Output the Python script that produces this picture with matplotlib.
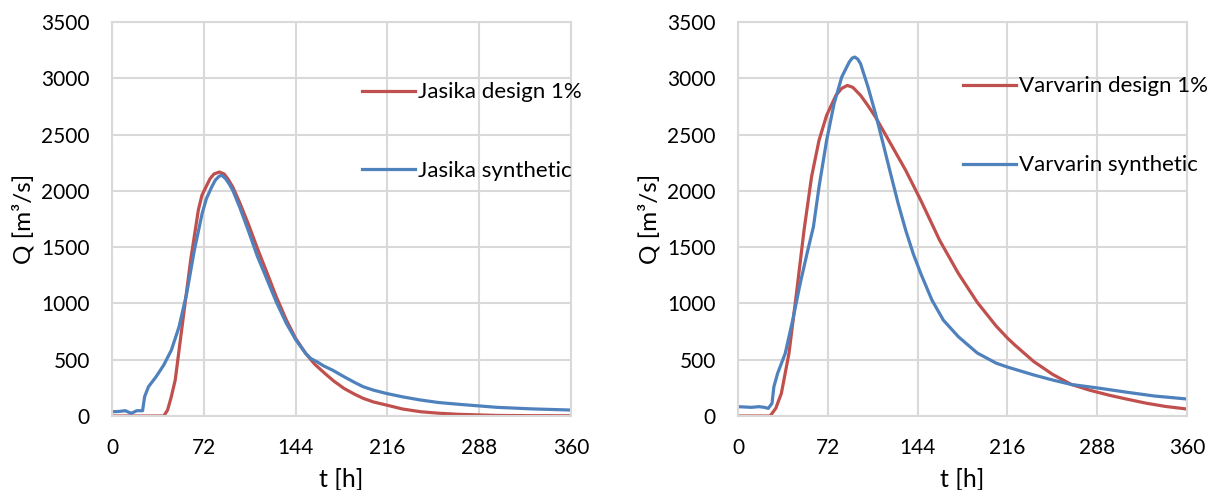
import numpy as np
import matplotlib.pyplot as plt

plt.rcParams['font.family'] = ['Lato', 'DejaVu Sans']

# Jasika
t_jd = [0, 20, 40.6, 43.6, 46.5, 49.6, 55.6, 61.7, 67.7, 70.5, 73.7, 77, 80, 84.2, 88, 91,
        94.7, 100, 106.8, 114, 121.8, 129, 136.8, 144, 151.9, 159, 166.9, 174, 182, 190, 197,
        205, 215, 228, 242, 256, 272, 302, 330, 360]
q_jd = [0, 0, 0, 53, 170, 320, 850, 1385, 1828, 1960, 2035, 2110, 2150, 2168, 2150, 2105,
        2035, 1900, 1710, 1490, 1266, 1055, 852, 690, 556, 460, 379, 310, 245, 195, 157,
        125, 98, 62, 38, 25, 15, 5, 3, 2]
t_js = [0, 5, 10.5, 15, 19.5, 24, 25.6, 28.6, 34.6, 40.6, 46.6, 52.6, 58.6, 64.6, 70.7, 74,
        78.2, 81, 84, 86, 89, 92, 94.7, 100, 106.8, 114, 121.8, 129, 136.8, 144, 151.9,
        156, 160.8, 166, 172.9, 182, 190, 197, 205, 215, 228, 242, 256, 272, 302, 330, 360]
q_js = [38, 40, 47, 24, 47, 47, 172, 260, 349, 453, 586, 793, 1089, 1473, 1799, 1930,
        2035, 2095, 2130, 2139, 2110, 2060, 2006, 1860, 1651, 1420, 1207, 1010, 822, 680, 556,
        510, 482, 445, 408, 349, 300, 260, 230, 201, 170, 142, 120, 104, 77, 63, 53]

# Varvarin
t_vd = [0, 20, 25.7, 30.2, 34.7, 40.8, 46.8, 52.9, 58.9, 64.9, 71, 78.5, 83, 87.6, 92, 98.2,
        104, 110.2, 122.3, 134.4, 146.5, 161.6, 176.7, 191.8, 206.9, 216, 222, 237, 252.2,
        267.3, 282.4, 297.5, 312.6, 327.7, 342.8, 360]
q_vd = [0, 0, 0, 68, 201, 556, 1089, 1651, 2124, 2449, 2671, 2849, 2910, 2937, 2920, 2849,
        2760, 2656, 2420, 2183, 1917, 1562, 1266, 1010, 800, 693, 630, 485, 370,
        280, 228, 185, 148, 113, 85, 62]
t_vs = [0, 10.6, 16.6, 21.1, 24.2, 27.2, 28.7, 31.7, 37.8, 43.8, 49.8, 55.9, 60.4, 64.9, 71,
        77, 83.1, 89.1, 91.5, 93.6, 96, 98.2, 104.2, 110.2, 116.3, 122.3, 128.4, 134.4, 140.4,
        146.5, 155.5, 164.6, 176.7, 191.8, 206.9, 216, 222, 237, 252.2, 267.3, 288.4, 312.6,
        333.7, 360]
q_vs = [83, 77, 83, 77, 68, 112, 260, 379, 556, 852, 1177, 1473, 1680, 2035, 2449,
        2775, 3011, 3144, 3180, 3189, 3170, 3130, 2923, 2686, 2420, 2153, 1887, 1651, 1444,
        1266, 1029, 852, 704, 560, 470, 435, 415, 365, 320, 280, 249, 210,
        178, 151]

red = '#c0504d'
blue = '#4f81bd'
grid = '#d9d9d9'

fig = plt.figure(figsize=(12.08, 4.9), dpi=100)
ax1 = fig.add_axes([0.0927, 0.151, 0.38, 0.804])
ax2 = fig.add_axes([0.611, 0.151, 0.3716, 0.804])


def style(ax, name, td, qd, ts, qs, leg_x, leg_y):
    ax.plot(td, qd, color=red, lw=2.3, label=name + ' design 1%')
    ax.plot(ts, qs, color=blue, lw=2.3, label=name + ' synthetic')
    ax.set_xlim(0, 360)
    ax.set_ylim(0, 3500)
    ax.set_xticks(np.arange(0, 361, 72))
    ax.set_yticks(np.arange(0, 3501, 500))
    ax.grid(True, color=grid, lw=1.5)
    ax.set_axisbelow(True)
    for s in ax.spines.values():
        s.set_color(grid)
        s.set_linewidth(1.5)
    ax.tick_params(length=0, labelsize=15, pad=16)
    ax.set_xlabel('t [h]', fontsize=18, labelpad=7)
    ax.set_ylabel('Q [m³/s]', fontsize=17.5, labelpad=5)
    ax.legend(loc='upper left', bbox_to_anchor=(leg_x, leg_y), frameon=False,
              fontsize=16, handlelength=2.4, handletextpad=0.1, labelspacing=2.65,
              borderpad=0, borderaxespad=0)


style(ax1, 'Jasika', t_jd, q_jd, t_js, q_js, 0.545, 0.847)
style(ax2, 'Varvarin', t_vd, q_vd, t_vs, q_vs, 0.501, 0.862)

fig.savefig('out.png', dpi=100)
